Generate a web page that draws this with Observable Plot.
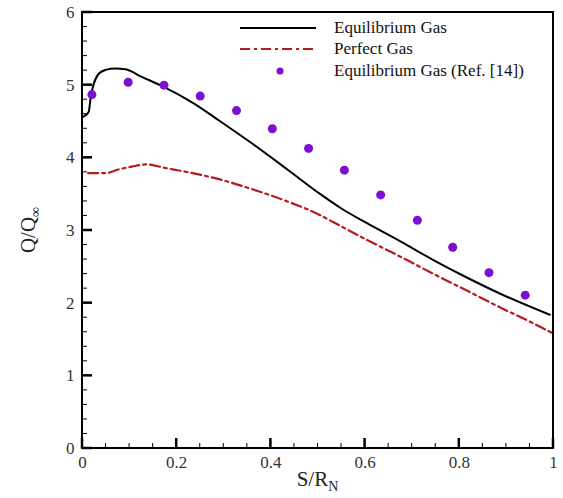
<!DOCTYPE html>
<html>
<head>
<meta charset="utf-8">
<script src="https://cdn.jsdelivr.net/npm/d3@7"></script>
<script src="https://cdn.jsdelivr.net/npm/@observablehq/plot@0.6"></script>
<style>
  html, body { margin: 0; padding: 0; background: #fff; }
  #wrap { position: relative; width: 563px; height: 498px; font-family: 'Liberation Serif'; }
  #legend { position: absolute; left: 240px; top: 17px; font-size: 17px; color: #111; font-family: 'Liberation Serif'; }
  .row { display: flex; align-items: center; height: 21.5px; }
  .row svg { width: 94px; height: 12px; flex: none; }
</style>
</head>
<body>
<div id="wrap"></div>
<script>
// ---- data ----
const eqX = [0, 0.005, 0.013, 0.018, 0.024, 0.035, 0.049, 0.07, 0.091, 0.127, 0.165, 0.236, 0.293, 0.364, 0.435, 0.505, 0.548, 0.604, 0.675, 0.746, 0.817, 0.887, 0.992];
const eqY = [4.56, 4.58, 4.63, 4.86, 5.02, 5.16, 5.21, 5.23, 5.22, 5.11, 5.00, 4.75, 4.50, 4.18, 3.84, 3.50, 3.31, 3.10, 2.85, 2.59, 2.35, 2.13, 1.84];

const pgX = [0.012, 0.049, 0.077, 0.105, 0.137, 0.176, 0.226, 0.293, 0.364, 0.435, 0.505, 0.534, 0.604, 0.675, 0.746, 0.817, 0.887, 0.958, 1.0];
const pgY = [3.79, 3.79, 3.84, 3.88, 3.91, 3.86, 3.80, 3.70, 3.56, 3.40, 3.21, 3.11, 2.87, 2.64, 2.40, 2.17, 1.94, 1.72, 1.58];

const refX = [0.02, 0.097, 0.173, 0.25, 0.327, 0.403, 0.48, 0.556, 0.633, 0.711, 0.786, 0.863, 0.94];
const refY = [4.87, 5.04, 5.00, 4.85, 4.65, 4.40, 4.13, 3.83, 3.49, 3.14, 2.77, 2.42, 2.11];

const xTicks = [0, 0.2, 0.4, 0.6, 0.8, 1];
const yTicks = [0, 1, 2, 3, 4, 5, 6];
const seriesNames = ["Equilibrium Gas", "Perfect Gas", "Equilibrium Gas (Ref. [14])"];
const xLabel = ["S/R", "N"];
const yLabel = ["Q/Q", "\u221E"];

// ---- layout ----
const W = 563, H = 498;
const mL = 82, mR = 10, mT = 12, mB = 50;
const fw = W - mL - mR, fh = H - mT - mB;
const xDom = [0, 1], yDom = [0, 6];
const black = "#000", red = "#b51c1c", purple = "#7c0fd2";
const FONT = "'Liberation Serif'";

const eq = eqX.map((x, i) => ({x, y: eqY[i]}));
const pg = pgX.map((x, i) => ({x, y: pgY[i]}));
const ref = refX.map((x, i) => ({x, y: refY[i]}));

const xMinor = d3.range(0, 20).map(i => i * 0.05).filter(v => Math.abs(v * 5 - Math.round(v * 5)) > 1e-6);
const yMinor = d3.range(0, 30).map(i => i * 0.2).filter(v => Math.abs(v - Math.round(v)) > 1e-6);

const chart = Plot.plot({
  width: W, height: H,
  marginLeft: mL, marginRight: mR, marginTop: mT, marginBottom: mB,
  style: {fontFamily: FONT, fontSize: "17px", color: "#333", background: "#fff"},
  x: {domain: xDom},
  y: {domain: yDom},
  marks: [
    Plot.line(pg, {x: "x", y: "y", stroke: red, strokeWidth: 2.2, strokeDasharray: "10,4,3,4", curve: "monotone-x"}),
    Plot.line(eq, {x: "x", y: "y", stroke: black, strokeWidth: 2, curve: "monotone-x"}),
    Plot.dot(ref, {x: "x", y: "y", r: 4.5, fill: purple, stroke: "none"}),
    Plot.axisX(xTicks, {tickSize: 0, tickPadding: 7, tickFormat: d => String(d), label: null}),
    Plot.axisY(yTicks, {tickSize: 0, tickPadding: 8, tickFormat: d => String(d), label: null})
  ]
});

const wrap = document.getElementById("wrap");
wrap.appendChild(chart);

// frame and inward ticks, positioned through Plot's own scales
const svg = d3.select(chart);
const sx = chart.scale("x"), sy = chart.scale("y");
const X = v => sx.apply(v), Y = v => sy.apply(v);
const g = svg.append("g").attr("stroke", "black").attr("fill", "none");
const x0 = X(xDom[0]), x1 = X(xDom[1]), y0 = Y(yDom[0]), y1 = Y(yDom[1]);
g.append("path").attr("stroke-width", 2)
  .attr("d", `M${x0},${y1}H${x1}V${y0}H${x0}Z`);
xMinor.forEach(v => g.append("path").attr("stroke-width", 1).attr("d", `M${X(v)},${y0}V${y0 - 5}`));
xTicks.forEach(v => g.append("path").attr("stroke-width", 2.5).attr("d", `M${X(v)},${y0}V${y0 - 10}`));
yMinor.forEach(v => g.append("path").attr("stroke-width", 1).attr("d", `M${x0},${Y(v)}H${x0 + 5}`));
yTicks.forEach(v => g.append("path").attr("stroke-width", 2.5).attr("d", `M${x0},${Y(v)}H${x0 + 10}`));

// axis titles with subscripts
const xt = svg.append("text")
  .attr("x", mL + fw / 2).attr("y", 486)
  .attr("text-anchor", "middle")
  .style("font-size", "21px").style("fill", "#222")
  .style("font-family", FONT);
xt.append("tspan").text(xLabel[0]);
xt.append("tspan").attr("dy", 5).style("font-size", "14px").text(xLabel[1]);

const yt = svg.append("text")
  .attr("transform", `translate(35,${mT + fh / 2}) rotate(-90)`)
  .attr("text-anchor", "middle")
  .style("font-size", "21px").style("fill", "#222")
  .style("font-family", FONT);
yt.append("tspan").text(yLabel[0]);
yt.append("tspan").attr("dy", 5).style("font-size", "14px").text(yLabel[1]);

// legend
const legend = document.createElement("div");
legend.id = "legend";
const swatches = [
  `<svg viewBox="0 0 94 12"><line x1="0" y1="6" x2="76" y2="6" stroke="${black}" stroke-width="2.2"/></svg>`,
  `<svg viewBox="0 0 94 12"><line x1="0" y1="6" x2="76" y2="6" stroke="${red}" stroke-width="2.2" stroke-dasharray="10,4,3,4"/></svg>`,
  `<svg viewBox="0 0 94 12"><circle cx="40" cy="6" r="3.5" fill="${purple}"/></svg>`
];
seriesNames.forEach((name, i) => {
  const row = document.createElement("div");
  row.className = "row";
  row.innerHTML = swatches[i] + `<span>${name}</span>`;
  legend.appendChild(row);
});
wrap.appendChild(legend);
</script>
</body>
</html>
